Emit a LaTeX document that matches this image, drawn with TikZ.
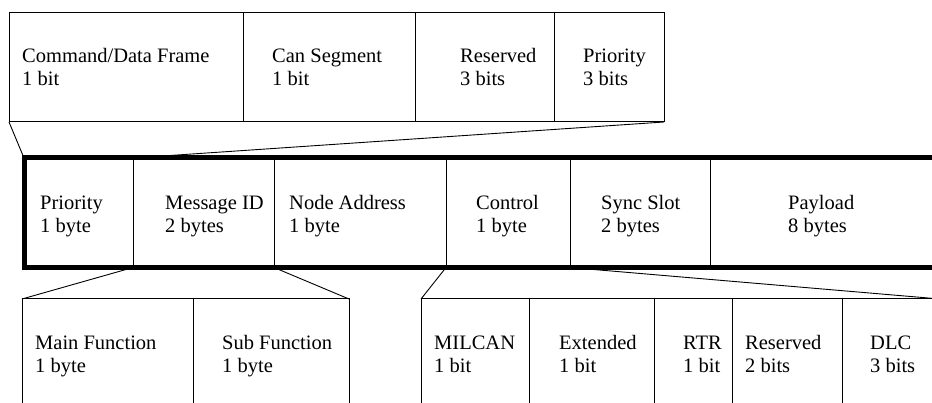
\documentclass[tikz,border=0pt]{standalone}
\usepackage{fontspec}
\setmainfont{Liberation Serif}
\newcommand\twoline[2]{\begin{tabular}[t]{@{}l@{}}#1\\#2\end{tabular}}
\begin{document}
\begin{tikzpicture}[x=1pt,y=-1pt,
  thinline/.style={line width=1pt},
  frameline/.style={line width=5pt},
  conn/.style={line width=0.9pt},
  lbl/.style={anchor=base west, inner sep=0pt, font=\fontsize{20.5}{23}\selectfont}]
\useasboundingbox (0,0) rectangle (932,403);
\clip (0,0) rectangle (932,403);

% ---- named points
\coordinate (tbl) at (9,122);
\coordinate (tbr) at (664,122);
\coordinate (ftl) at (24,158);
\coordinate (fd1t) at (133,158);
\coordinate (fd1b) at (133,267.5);
\coordinate (fd2b) at (274,267.5);
\coordinate (fd3b) at (446,267.5);
\coordinate (fd4b) at (570,267.5);
\coordinate (bl1) at (22,299);
\coordinate (br1) at (349,299);
\coordinate (bl2) at (421,299);
\coordinate (br2) at (940,299);

% ---- top box (Priority expanded)
\draw[thinline] (9,13) rectangle (664,122);
\foreach \x in {243,415,554} \draw[thinline] (\x,13) -- (\x,122);
\node[lbl] (t1) at (22,63) {\twoline{Command/Data Frame}{1 bit}};
\node[lbl] (t2) at (272,63) {\twoline{Can Segment}{1 bit}};
\node[lbl] (t3) at (460,63) {\twoline{Reserved}{3 bits}};
\node[lbl] (t4) at (583,63) {\twoline{Priority}{3 bits}};

% ---- main frame
\foreach \x in {133,274,446,570,710} \draw[thinline] (\x,158) -- (\x,267.5);
\draw[frameline] (24,158) rectangle (1000,267.5);
\node[lbl] (m1) at (40,210) {\twoline{Priority}{1 byte}};
\node[lbl] (m2) at (165,210) {\twoline{Message ID}{2 bytes}};
\node[lbl] (m3) at (289,210) {\twoline{Node Address}{1 byte}};
\node[lbl] (m4) at (476,210) {\twoline{Control}{1 byte}};
\node[lbl] (m5) at (601,210) {\twoline{Sync Slot}{2 bytes}};
\node[lbl] (m6) at (788,210) {\twoline{Payload}{8 bytes}};

% ---- bottom left box (Message ID expanded)
\draw[thinline] (22,420) -- (22,299) -- (349,299) -- (349,420);
\draw[thinline] (193,299) -- (193,420);
\node[lbl] (b1) at (35,349) {\twoline{Main Function}{1 byte}};
\node[lbl] (b2) at (222,349) {\twoline{Sub Function}{1 byte}};

% ---- bottom right box (Control expanded)
\draw[thinline] (421,420) -- (421,299) -- (940,299) -- (940,420);
\foreach \x in {529,654,732,842} \draw[thinline] (\x,299) -- (\x,420);
\node[lbl] (c1) at (434,349) {\twoline{MILCAN}{1 bit}};
\node[lbl] (c2) at (559,349) {\twoline{Extended}{1 bit}};
\node[lbl] (c3) at (683,349) {\twoline{RTR}{1 bit}};
\node[lbl] (c4) at (745,349) {\twoline{Reserved}{2 bits}};
\node[lbl] (c5) at (870,349) {\twoline{DLC}{3 bits}};

% ---- connectors
\draw[conn] (tbl) -- (ftl);
\draw[conn] (tbr) -- (fd1t);
\draw[conn] (fd1b) -- (bl1);
\draw[conn] (fd2b) -- (br1);
\draw[conn] (fd3b) -- (bl2);
\draw[conn] (fd4b) -- (br2);
\end{tikzpicture}
\end{document}
